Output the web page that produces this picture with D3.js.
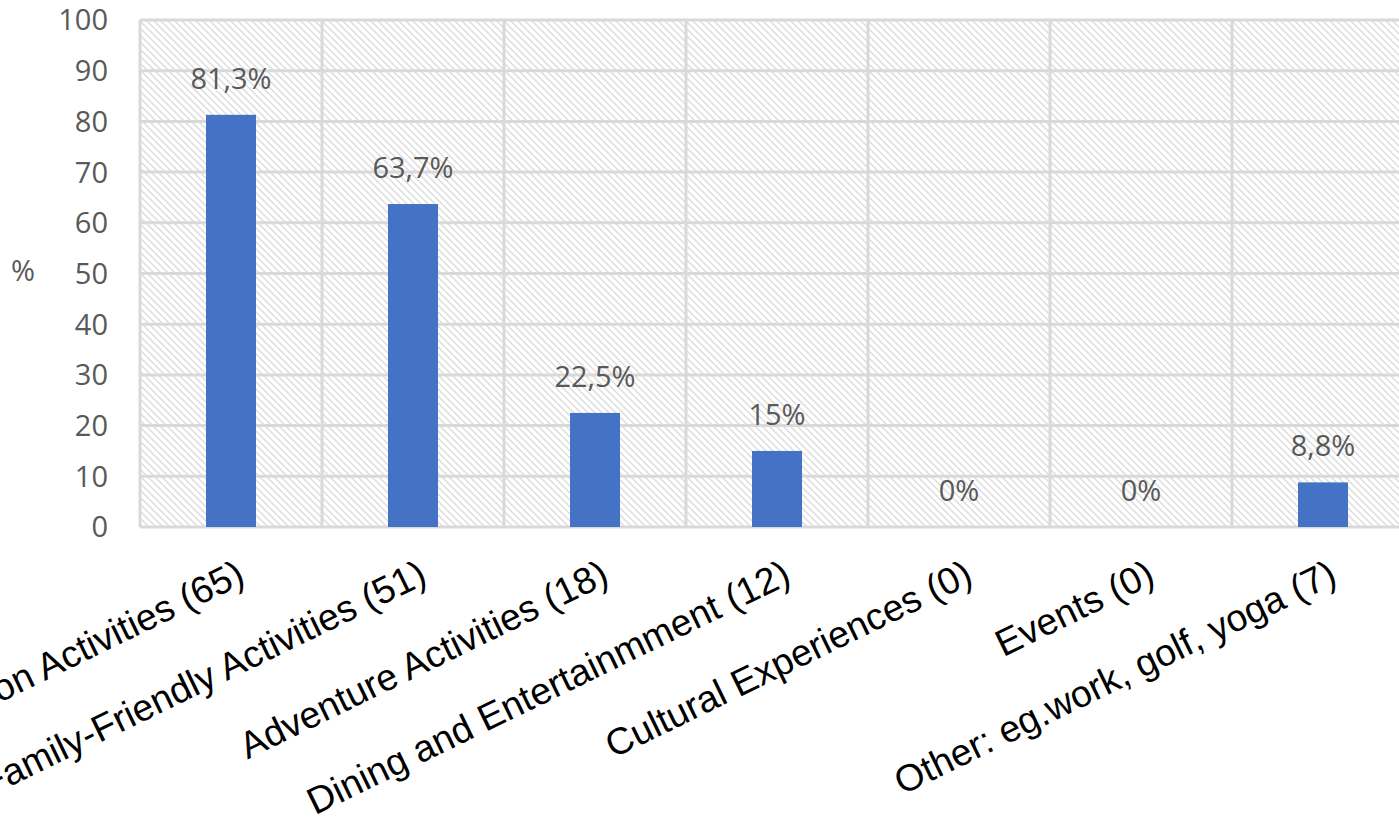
<!DOCTYPE html>
<html>
<head>
<meta charset="utf-8">
<script src="https://cdn.jsdelivr.net/npm/d3@7"></script>
<style>
  html, body { margin: 0; padding: 0; background: #ffffff; }
  svg { display: block; }
</style>
</head>
<body>
<svg id="chart" width="1399" height="826"></svg>
<script>
const categories = [
  "Relaxation Activities (65)",
  "Family-Friendly Activities (51)",
  "Adventure Activities (18)",
  "Dining and Entertainmment (12)",
  "Cultural Experiences (0)",
  "Events (0)",
  "Other: eg.work, golf, yoga (7)"
];
const values = [81.3, 63.7, 22.5, 15, 0, 0, 8.8];
const valueLabels = ["81,3%", "63,7%", "22,5%", "15%", "0%", "0%", "8,8%"];
const yTicks = [0, 10, 20, 30, 40, 50, 60, 70, 80, 90, 100];
const yTitle = "%";

const svg = d3.select("#chart");
const W = 1399, H = 826;
const plot = { left: 140, right: 1414, top: 20, bottom: 527 };
const barWidth = 50;
const gridColor = "#d9d9d9";
const numFont = "'Open Sans', sans-serif";

svg.append("rect").attr("width", W).attr("height", H).attr("fill", "#ffffff");

const defs = svg.append("defs");
const pat = defs.append("pattern")
  .attr("id", "hatch")
  .attr("patternUnits", "userSpaceOnUse")
  .attr("width", 7).attr("height", 7);
pat.append("rect").attr("width", 7).attr("height", 7).attr("fill", "#ffffff");
pat.append("path")
  .attr("d", "M-1,-1 L8,8 M-1,6 L1,8 M6,-1 L8,1")
  .attr("stroke", "#dadada")
  .attr("stroke-width", 1.3)
  .attr("fill", "none");

const x = d3.scaleBand().domain(categories).range([plot.left, plot.right]).padding(0);
const y = d3.scaleLinear().domain([0, 100]).range([plot.bottom, plot.top]);

// plot background
svg.append("rect")
  .attr("x", plot.left).attr("y", plot.top)
  .attr("width", plot.right - plot.left).attr("height", plot.bottom - plot.top)
  .attr("fill", "url(#hatch)");

// horizontal gridlines
svg.append("g").selectAll("line").data(yTicks).join("line")
  .attr("x1", plot.left).attr("x2", plot.right)
  .attr("y1", d => y(d)).attr("y2", d => y(d))
  .attr("stroke", gridColor).attr("stroke-width", 3);

// vertical gridlines at category boundaries
const boundaries = categories.map(c => x(c)).concat([x(categories[categories.length - 1]) + x.bandwidth()]);
svg.append("g").selectAll("line").data(boundaries).join("line")
  .attr("x1", d => d).attr("x2", d => d)
  .attr("y1", plot.top).attr("y2", plot.bottom)
  .attr("stroke", gridColor).attr("stroke-width", 3);

// y tick labels
svg.append("g").selectAll("text").data(yTicks).join("text")
  .attr("x", 108).attr("y", d => y(d))
  .attr("dy", "0.36em")
  .attr("text-anchor", "end")
  .attr("font-family", numFont).attr("font-size", 29)
  .attr("fill", "#595959")
  .text(d => d);

// y title
svg.append("text")
  .attr("x", 23).attr("y", y(50) - 3)
  .attr("dy", "0.36em")
  .attr("text-anchor", "middle")
  .attr("font-family", numFont).attr("font-size", 29)
  .attr("fill", "#595959")
  .text(yTitle);

// bars
const cx = c => x(c) + x.bandwidth() / 2;
svg.append("g").selectAll("rect").data(categories).join("rect")
  .attr("x", c => cx(c) - barWidth / 2)
  .attr("width", barWidth)
  .attr("y", (c, i) => y(values[i]))
  .attr("height", (c, i) => y(0) - y(values[i]))
  .attr("fill", "#4472c4");

// data labels
svg.append("g").selectAll("text").data(categories).join("text")
  .attr("x", c => cx(c))
  .attr("y", (c, i) => y(values[i]) - 26)
  .attr("text-anchor", "middle")
  .attr("font-family", numFont).attr("font-size", 29)
  .attr("fill", "#595959")
  .text((c, i) => valueLabels[i]);

// category labels (rotated)
svg.append("g").selectAll("text").data(categories).join("text")
  .attr("transform", c => `translate(${cx(c) + 4},${558}) rotate(-26)`)
  .attr("x", 0).attr("y", 0)
  .attr("dy", "0.72em")
  .attr("text-anchor", "end")
  .attr("font-family", "'Liberation Sans', Arial, sans-serif")
  .attr("font-size", 37.5)
  .attr("fill", "#000000")
  .text(c => c);
</script>
</body>
</html>
